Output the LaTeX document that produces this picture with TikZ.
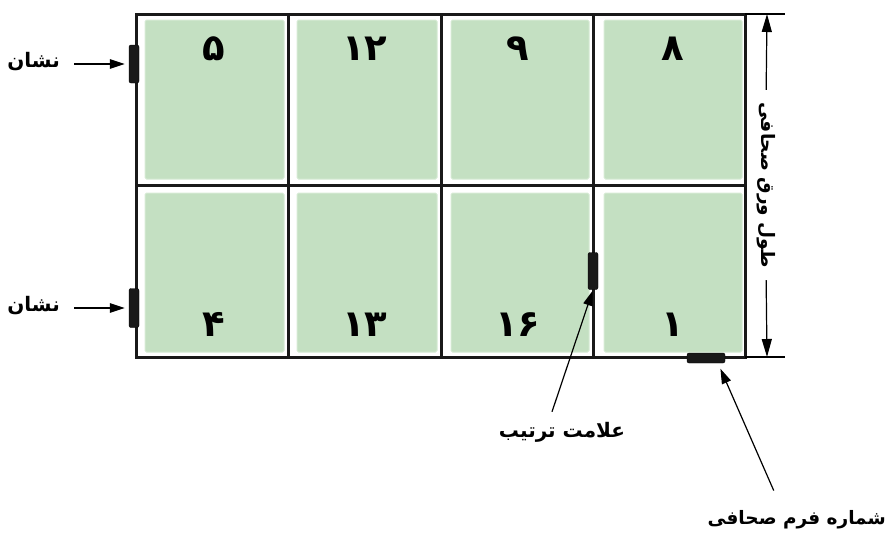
\documentclass[tikz,border=0pt]{standalone}
\usepackage{fontspec}
\usetikzlibrary{arrows.meta}
\TeXXeTstate=1
\newfontfamily\arabicfont[Script=Arabic]{DejaVu Sans}
\definecolor{pagegreen}{RGB}{196,224,194}
\definecolor{pageedge}{RGB}{214,234,212}
\begin{document}
\begin{tikzpicture}[x=1pt,y=-1pt,
  gridline/.style={line width=3pt, draw=black!90},
  panel/.style={fill=pagegreen, draw=pageedge, line width=1pt, rounded corners=1.5pt},
  num/.style={font=\arabicfont\fontsize{37}{40}\selectfont\bfseries, anchor=base, inner sep=0pt},
  lab/.style={font=\arabicfont\fontsize{20}{24}\selectfont\bfseries, inner sep=0pt},
  dimlab/.style={font=\arabicfont\fontsize{18.5}{22}\selectfont\bfseries, inner sep=0pt},
  tabmark/.style={fill=black!90, draw=black, rounded corners=2pt, inner sep=0pt},
  arr/.style={line width=1.2pt, -{Triangle[length=15pt,width=9.5pt]}},
  dimarr/.style={line width=1.2pt, -{Triangle[length=18pt,width=10pt]}},
  ext/.style={line width=1.2pt}]
\useasboundingbox (0,0) rectangle (888,536);
% green panels
\foreach \xa/\xb in {145/284, 297/437, 451/589, 604/742}{
  \draw[panel] (\xa,20) rectangle (\xb,179);
  \draw[panel] (\xa,193) rectangle (\xb,352);
}
% grid
\draw[gridline] (136,14) rectangle (745,357);
\draw[gridline] (288,14) -- (288,357);
\draw[gridline] (441,14) -- (441,357);
\draw[gridline] (593,14) -- (593,357);
\draw[gridline] (136,185) -- (745,185);
% page numbers
\node[num] (p5)  at (214,60) {۵};
\node[num] (p12) at (365,60) {۱۲};
\node[num] (p9)  at (518,60) {۹};
\node[num] (p8)  at (673,60) {۸};
\node[num] (p4)  at (214,336) {۴};
\node[num] (p13) at (365,336) {۱۳};
\node[num] (p16) at (518,336) {۱۶};
\node[num] (p1)  at (673,336) {۱};
% marks
\node[tabmark, minimum width=10pt, minimum height=38pt] (m1) at (134,64) {};
\node[tabmark, minimum width=10pt, minimum height=39pt] (m2) at (134,308) {};
\node[tabmark, minimum width=10pt, minimum height=37pt] (m3) at (593,271) {};
\node[tabmark, minimum width=38pt, minimum height=10pt] (m4) at (706,358) {};
% left labels
\node[lab, anchor=east] (l1) at (60,62) {\beginR نشان\endR};
\node[lab, anchor=east] (l2) at (60,306) {\beginR نشان\endR};
\draw[arr, shorten >=4pt] ([xshift=14pt]l1.east |- m1.west) -- (m1.west);
\draw[arr, shorten >=4pt] ([xshift=14pt]l2.east |- m2.west) -- (m2.west);
% bottom labels
\node[lab] (l3) at (562,432) {\beginR علامت ترتیب\endR};
\node[lab, font=\arabicfont\fontsize{18.5}{22}\selectfont\bfseries, anchor=east] (l4) at (886,520) {\beginR شماره فرم صحافی\endR};
\draw[arr, shorten >=1pt] ([xshift=-10pt,yshift=10pt]l3.north) -- (m3.south);
\draw[arr, shorten >=6pt] ([xshift=-23pt,yshift=20pt]l4.north) -- ([xshift=12pt]m4.south);
% dimension
\coordinate (dtop) at (767,14);
\coordinate (dbot) at (767,357);
\draw[ext] (745,14) -- (785,14);
\draw[ext] (745,357) -- (785,357);
\node[dimlab, rotate=-90] (dim) at (766,185) {\beginR طول ورق صحافی\endR};
\draw[dimarr, shorten <=12pt] (dim.west) -- (dtop);
\draw[dimarr, shorten <=12pt] (dim.east) -- (dbot);
\end{tikzpicture}
\end{document}
